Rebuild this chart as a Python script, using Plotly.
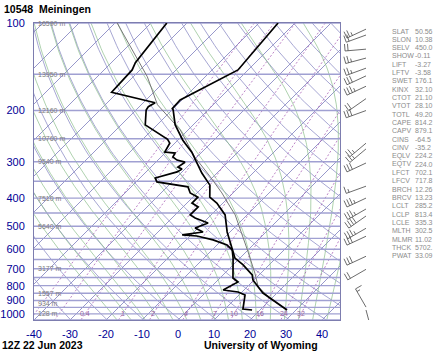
import numpy as np
import plotly.graph_objects as go

# ---------------- data ----------------
station_title = "10548  Meiningen"
time_label = "12Z 22 Jun 2023"
credit_label = "University of Wyoming"

temp_p = [970, 848, 808, 765, 735, 679, 643, 594, 523, 457, 416, 397, 361, 328, 303, 278, 253, 224, 199, 197, 184, 145, 100]
temp_t = [27.5, 16.1, 13.1, 9.7, 8.1, 2.8, -1.4, -5.0, -10.8, -16.1, -21.7, -25.3, -28.6, -34.2, -38.3, -42.8, -48.6, -55.0, -59.7, -60.3, -60.5, -52.8, -54.7]

dwpt_p = [970, 963, 862, 841, 828, 777, 753, 643, 603, 580, 557, 540, 535, 523, 507, 487, 468, 457, 429, 416, 397, 384, 366, 352, 341, 325, 318, 313, 301, 296, 289, 280, 278, 259, 251, 224, 199, 194, 188, 173, 145, 137, 100]
dwpt_t = [17.8, 15.0, 11.7, 8.9, 4.2, 6.1, 3.6, -1.9, -4.4, -7.2, -12.5, -18.1, -22.5, -17.5, -20.8, -18.6, -23.6, -25.8, -25.8, -28.6, -28.6, -31.9, -34.2, -44.2, -45.8, -41.4, -40.8, -42.5, -41.9, -44.7, -46.7, -47.2, -50.3, -51.4, -53.1, -63.3, -67.2, -67.5, -66.7, -81.7, -82.2, -83.3, -85.6]

parcel_p = [970, 890, 808, 724, 613, 535, 457, 429, 384, 338, 289, 233, 191, 153, 124, 100]
parcel_t = [27.5, 20.0, 13.1, 8.3, 0.6, -5.8, -13.3, -16.9, -23.1, -30.8, -40.6, -52.2, -65.5, -76.1, -87.5, -99.4]

wind_p = [105, 110, 123, 132, 143, 152, 165, 182, 200, 259, 271, 303, 364, 400, 436, 461, 508, 541, 634, 703, 948, 970]
wind_dir = [245, 250, 265, 255, 250, 245, 245, 235, 250, 230, 230, 245, 250, 245, 240, 235, 240, 245, 245, 240, 330, 165]
wind_spd = [25, 20, 20, 25, 25, 30, 35, 20, 30, 25, 25, 30, 15, 35, 35, 40, 35, 30, 30, 20, 15, 10]

x_ticks = [-40, -30, -20, -10, 0, 10, 20, 30, 40]
p_ticks = [100, 200, 300, 400, 500, 600, 700, 800, 900, 1000]

height_p = [100, 150, 200, 250, 300, 400, 500, 700, 850, 925, 1000]
height_txt = ["16590 m", "13950 m", "12160 m", "10760 m", "9540 m", "7510 m", "5640 m", "3177 m", "1557 m", "934 m", "128 m"]

isobar_p = list(range(100, 1051, 50))
isotherm_t = list(range(-130, 50, 10))
dry_theta = list(range(230, 480, 10))
moist_tw = list(range(-20, 44, 4))
mixr_w = [0.1, 0.2, 0.4, 1, 2, 4, 7, 10, 16, 24, 32]
mixr_lab = ["0.4", "1", "2", "4", "7", "10", "16", "24", "32"]

stat_names = ["SLAT", "SLON", "SELV", "SHOW", "LIFT", "LFTV", "SWET", "KINX", "CTOT", "VTOT", "TOTL",
              "CAPE", "CAPV", "CINS", "CINV", "EQLV", "EQTV", "LFCT", "LFCV", "BRCH", "BRCV", "LCLT",
              "LCLP", "LCLE", "MLTH", "MLMR", "THCK", "PWAT"]
stat_vals = ["50.56", "10.38", "450.0", "-0.11", "-3.27", "-3.58", "176.1", "32.10", "21.10", "28.10", "49.20",
             "814.2", "879.1", "-64.5", "-35.2", "224.2", "224.0", "702.1", "717.8", "12.26", "13.23", "285.2",
             "813.4", "335.3", "302.5", "11.02", "5702.", "33.09"]

# ---------------- geometry ----------------
P_BOT, P_TOP = 1050.0, 100.0
W_PLOT, H_PLOT = 306.0, 297.0
X_MIN, X_MAX = -40.0, 45.0
K = (H_PLOT / np.log(P_BOT / P_TOP)) / (W_PLOT / (X_MAX - X_MIN))


def skew(t, p):
    return np.asarray(t, dtype=float) + K * np.log(P_BOT / np.asarray(p, dtype=float))


fig = go.Figure()


def add_family(segs, color, width, dash=None):
    xs, ys = [], []
    for x, p in segs:
        xs += list(x) + [None]
        ys += list(p) + [None]
    fig.add_trace(go.Scatter(x=xs, y=ys, mode="lines", hoverinfo="skip", showlegend=False,
                             line=dict(color=color, width=width, dash=dash)))


pp = np.geomspace(P_TOP, P_BOT, 80)

# isotherms
add_family([(skew([t, t], [P_TOP, P_BOT]), [P_TOP, P_BOT]) for t in isotherm_t], "rgb(125,125,190)", 0.8)

# dry adiabats
add_family([(skew(th * (pp / 1000.0) ** 0.2857 - 273.15, pp), pp) for th in dry_theta], "rgb(145,145,200)", 0.8)


# moist adiabats
def moist(tw):
    Rd, Cp, Lv, eps = 287.04, 1005.7, 2.501e6, 0.622

    def rs(T, p):
        es = 6.112 * np.exp(17.67 * (T - 273.15) / (T - 29.65))
        return eps * es / (p - es)

    def f(T, p):
        r = rs(T, p)
        return (Rd * T + Lv * r) / (Cp + Lv * Lv * r * eps / (Rd * T * T)) / p

    out_p, out_t = [], []
    for pend in (P_TOP, P_BOT):
        T = tw + 273.15
        p = 1000.0
        ps, ts = [p], [T]
        n = 200
        dp = (pend - 1000.0) / n
        for _ in range(n):
            k1 = f(T, p)
            k2 = f(T + 0.5 * dp * k1, p + 0.5 * dp)
            T = T + dp * k2
            p = p + dp
            ps.append(p)
            ts.append(T)
        if pend == P_TOP:
            out_p = ps[::-1]
            out_t = ts[::-1]
        else:
            out_p += ps[1:]
            out_t += ts[1:]
    out_p = np.array(out_p)
    out_t = np.array(out_t) - 273.15
    return skew(out_t, out_p), out_p


add_family([moist(tw) for tw in moist_tw], "rgb(140,190,140)", 0.7)


# mixing ratio lines
def mixr_td(w, p):
    e = w * p / (622.0 + w)
    a = np.log(e / 6.112)
    return 243.5 * a / (17.67 - a)


add_family([(skew(mixr_td(w, pp), pp), pp) for w in mixr_w], "rgb(160,80,175)", 0.7, "2px,2px")

# isobars
add_family([([X_MIN - 5, X_MAX + 5], [p, p]) for p in isobar_p], "rgb(160,160,210)", 1.4)

# profiles
fig.add_trace(go.Scatter(x=skew(parcel_t, parcel_p), y=parcel_p, mode="lines",
                         line=dict(color="rgb(120,120,120)", width=1.0), hoverinfo="skip", showlegend=False))
fig.add_trace(go.Scatter(x=skew(temp_t, temp_p), y=temp_p, mode="lines",
                         line=dict(color="black", width=1.7), hoverinfo="skip", showlegend=False))
fig.add_trace(go.Scatter(x=skew(dwpt_t, dwpt_p), y=dwpt_p, mode="lines",
                         line=dict(color="black", width=1.7), hoverinfo="skip", showlegend=False))

# wind barbs (x2/y2 in pixel units)
def ypix(p):
    return H_PLOT * np.log(P_BOT / p) / np.log(P_BOT / P_TOP)


bx, by = [], []
STATION_X = 366.0
for p, d, s in zip(wind_p, wind_dir, wind_spd):
    x0, y0 = STATION_X, ypix(p)
    r = np.radians(d)
    ux, uy = np.sin(r), np.cos(r)
    L = 21.0
    tx, ty = x0 + L * ux, y0 + L * uy
    bx += [x0, tx, None]
    by += [y0, ty, None]
    px_, py_ = uy, -ux
    n10 = int(s // 10)
    n5 = int((s % 10) // 5)
    pos = 0.0
    for i in range(n10):
        sx, sy = tx - pos * ux, ty - pos * uy
        bx += [sx, sx + 7 * px_, None]
        by += [sy, sy + 7 * py_, None]
        pos += 3.0
    if n5:
        if n10 == 0:
            pos = 3.0
        sx, sy = tx - pos * ux, ty - pos * uy
        bx += [sx, sx + 3.5 * px_, None]
        by += [sy, sy + 3.5 * py_, None]

fig.add_trace(go.Scatter(x=bx, y=by, xaxis="x2", yaxis="y2", mode="lines",
                         line=dict(color="rgb(70,70,70)", width=0.8), hoverinfo="skip", showlegend=False))

ann = []
# height labels
for p, t in zip(height_p, height_txt):
    ann.append(dict(x=X_MIN + 0.5, y=np.log10(p), xref="x", yref="y", text=t, showarrow=False,
                    xanchor="left", yanchor="middle",
                    font=dict(family="Liberation Sans", size=7, color="rgb(125,125,125)")))
# mixing ratio labels
for w, lab in zip(mixr_w[2:], mixr_lab):
    ann.append(dict(x=float(skew(mixr_td(w, 1000.0), 1000.0)), y=3.0, xref="x", yref="y", text=lab,
                    showarrow=False, xanchor="center", yanchor="middle",
                    font=dict(family="Liberation Sans", size=7, color="rgb(150,100,160)")))
# stats
for i, (n, v) in enumerate(zip(stat_names, stat_vals)):
    yy = 320 - (31 + i * 8.33)
    ann.append(dict(x=390, y=yy, xref="x2", yref="y2", text=n, showarrow=False, xanchor="left",
                    yanchor="middle", font=dict(family="Liberation Sans", size=7, color="rgb(140,140,140)")))
    ann.append(dict(x=413, y=yy, xref="x2", yref="y2", text=v, showarrow=False, xanchor="left",
                    yanchor="middle", font=dict(family="Liberation Sans", size=7, color="rgb(140,140,140)")))

ann.append(dict(x=(2 - 34) / 406, y=(320 - 9) / 297, xref="paper", yref="paper", text="<b>" + station_title + "</b>",
                showarrow=False, xanchor="left", yanchor="middle",
                font=dict(family="Liberation Sans", size=10.5, color="black")))
ann.append(dict(x=(0 - 34) / 406, y=(320 - 345) / 297, xref="paper", yref="paper", text="<b>" + time_label + "</b>",
                showarrow=False, xanchor="left", yanchor="middle",
                font=dict(family="Liberation Sans", size=10.5, color="black")))
ann.append(dict(x=(202 - 34) / 406, y=(320 - 345) / 297, xref="paper", yref="paper", text="<b>" + credit_label + "</b>",
                showarrow=False, xanchor="left", yanchor="middle",
                font=dict(family="Liberation Sans", size=10.5, color="black")))

frame = "rgb(125,125,175)"
tickfont = dict(family="Liberation Sans", size=11, color="rgb(0,0,150)")
fig.update_layout(
    width=440, height=352, margin=dict(l=34, r=0, t=23, b=32),
    paper_bgcolor="white", plot_bgcolor="white", showlegend=False,
    xaxis=dict(domain=[0, W_PLOT / 406], range=[X_MIN, X_MAX], tickvals=x_ticks,
               ticktext=[str(v) for v in x_ticks], showgrid=False, zeroline=False, showline=True,
               mirror=True, linecolor=frame, linewidth=1, ticks="", tickfont=tickfont, ticklabelstandoff=4),
    yaxis=dict(type="log", range=[np.log10(P_BOT), np.log10(P_TOP)], tickvals=p_ticks,
               ticktext=[str(v) for v in p_ticks], showgrid=False, zeroline=False, showline=True,
               mirror=True, linecolor=frame, linewidth=1, ticks="", tickfont=tickfont, ticklabelstandoff=6),
    xaxis2=dict(domain=[W_PLOT / 406, 1], range=[340, 440], anchor="y2", visible=False),
    yaxis2=dict(domain=[0, 1], range=[0, H_PLOT], anchor="x2", visible=False),
    annotations=ann,
)

fig.write_html("out.html")
